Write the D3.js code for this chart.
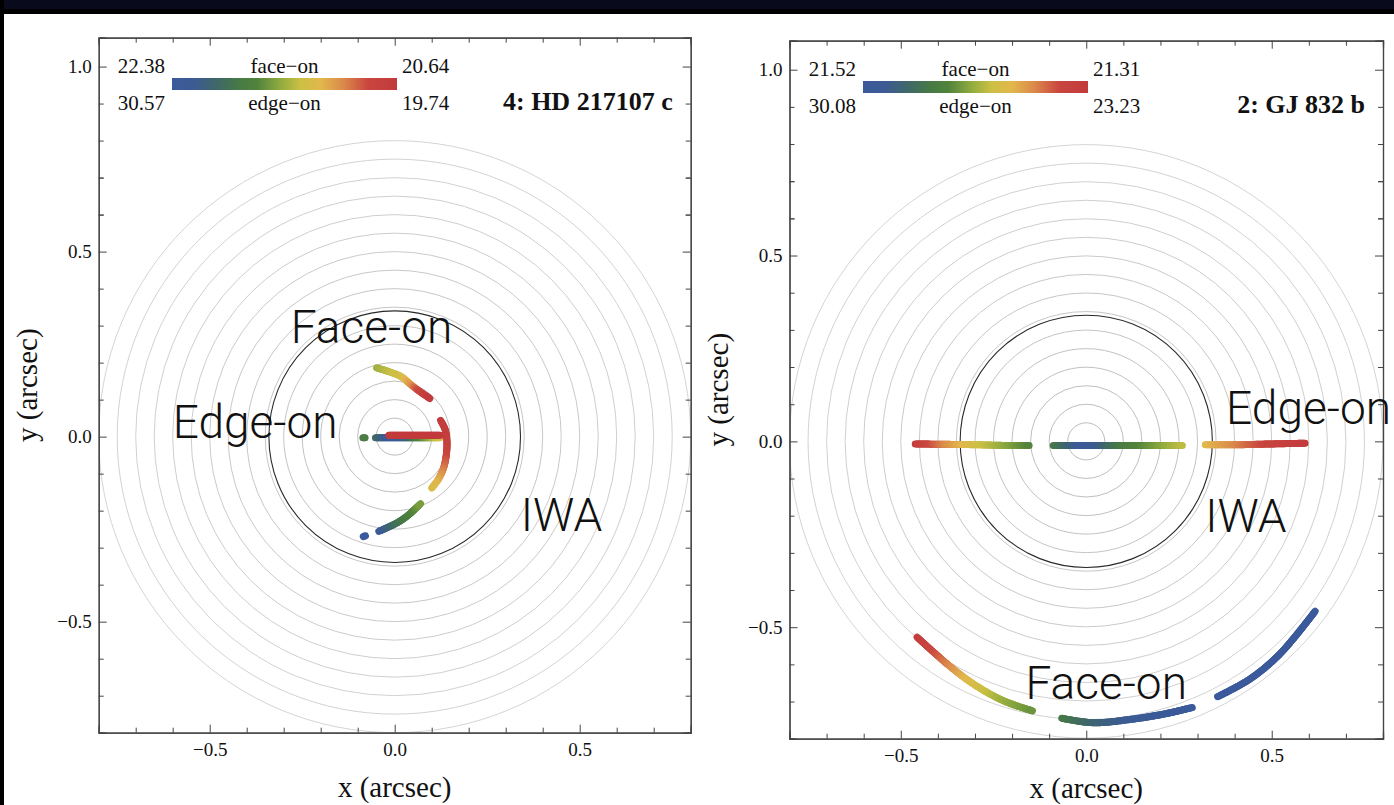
<!DOCTYPE html>
<html lang="en">
<head>
<meta charset="UTF-8">
<title>Projected orbits</title>
<script src="https://d3js.org/d3.v7.min.js"></script>
<style>
  body { margin: 0; background: #fff; }
  svg { display: block; }
  .tick text { font-family: "Liberation Serif", "Times New Roman", serif; font-size: 19px; fill: #111; }
  .axis path, .axis line { stroke: #444; }
  .note { font-family: Roboto, "Liberation Sans", sans-serif; font-weight: 300; font-size: 46px; fill: #111; }
  .serif { font-family: "Liberation Serif", "Times New Roman", serif; fill: #111; }
</style>
</head>
<body>
<svg id="chart" width="1394" height="805"></svg>
<script>
// ---- data ----
const xMajor = [-0.5, 0.0, 0.5];
const yMajor = [-0.5, 0.0, 0.5, 1.0];
const minorTicks = [-0.7, -0.6, -0.4, -0.3, -0.2, -0.1, 0.1, 0.2, 0.3, 0.4, 0.6, 0.7];
const yMinorExtra = [0.6, 0.7, 0.8, 0.9];
const ringRadii = [0.05, 0.10, 0.15, 0.20, 0.25, 0.30, 0.35, 0.40, 0.45, 0.50, 0.55, 0.60, 0.65, 0.70, 0.75, 0.80];
const iwaRadius = 0.34;

// colour map (DarkRainbow-like), position -> colour
const cmapStops = [0.00, 0.10, 0.20, 0.30, 0.38, 0.48, 0.57, 0.66, 0.76, 0.87, 1.00];
const cmapColors = ["#3b5a9b", "#3c5b93", "#3f6868", "#477a45", "#52833c", "#8fab3e", "#cbc044", "#e2b84c", "#db8a4b", "#c9473f", "#c23a3c"];

// panel 4: HD 217107 c   points are [x, y, colour position]
const hdLegend = ["22.38", "20.64", "30.57", "19.74"];
const hdFaceArc = [[-0.049, 0.186, 0.50], [0.016, 0.163, 0.60], [0.043, 0.141, 0.72], [0.061, 0.127, 0.85], [0.095, 0.103, 1.00]];
const hdRightArc = [[0.124, 0.044, 0.97], [0.136, 0.020, 0.96], [0.141, -0.010, 0.95], [0.140, -0.045, 0.90], [0.132, -0.085, 0.80], [0.118, -0.115, 0.70], [0.100, -0.139, 0.62]];
const hdLowerArc = [[-0.043, -0.256, 0.05], [0.008, -0.232, 0.25], [0.038, -0.211, 0.33], [0.070, -0.181, 0.45]];
const hdBlueDot = [[-0.085, -0.270, 0.00], [-0.079, -0.268, 0.00]];
const hdGreenDot = [[-0.086, -0.003, 0.32], [-0.080, -0.003, 0.32]];
const hdEdgeLine = [[-0.052, -0.003, 0.22], [-0.010, -0.003, 0.05], [0.030, -0.003, 0.15], [0.065, -0.003, 0.35], [0.122, -0.003, 0.60]];
const hdRedLine = [[-0.016, 0.004, 1.00], [0.124, 0.004, 1.00]];

// panel 2: GJ 832 b
const gjLegend = ["21.52", "21.31", "30.08", "23.23"];
const gjLeftEdge = [[-0.461, -0.007, 0.97], [-0.375, -0.008, 0.75], [-0.299, -0.009, 0.60], [-0.218, -0.011, 0.48], [-0.154, -0.011, 0.38]];
const gjCenterEdge = [[-0.089, -0.011, 0.30], [-0.030, -0.011, 0.12], [0.000, -0.011, 0.03], [0.092, -0.011, 0.30], [0.172, -0.011, 0.42], [0.259, -0.011, 0.55]];
const gjRightEdge = [[0.321, -0.009, 0.65], [0.415, -0.009, 0.78], [0.496, -0.007, 0.90], [0.590, -0.005, 0.98]];
const gjFaceLeft = [[-0.456, -0.527, 0.98], [-0.375, -0.599, 0.78], [-0.304, -0.653, 0.62], [-0.223, -0.698, 0.50], [-0.145, -0.725, 0.42]];
const gjFaceMid = [[-0.066, -0.745, 0.30], [0.019, -0.757, 0.18], [0.127, -0.747, 0.08], [0.213, -0.733, 0.03], [0.286, -0.716, 0.00]];
const gjFaceRight = [[0.354, -0.687, 0.00], [0.442, -0.639, 0.00], [0.523, -0.571, 0.00], [0.617, -0.457, 0.00]];

const noteTexts = ["Face-on", "Edge-on", "IWA"];

// ---- layout ----
const panels = [
  {
    title: "4: HD 217107 c", legend: hdLegend,
    tracks: [hdEdgeLine, hdGreenDot, hdRedLine, hdFaceArc, hdRightArc, hdLowerArc, hdBlueDot],
    box: { x0: 98.7, x1: 690.7, y0: 37.7, y1: 732.7 },
    notes: [[-0.281, 0.254], [-0.600, -0.005], [0.341, -0.254]],
    legendY: 73, barX: [172, 397], xTitleY: 797
  },
  {
    title: "2: GJ 832 b", legend: gjLegend,
    tracks: [gjLeftEdge, gjCenterEdge, gjRightEdge, gjFaceLeft, gjFaceMid, gjFaceRight],
    box: { x0: 789.5, x1: 1383, y0: 40.7, y1: 738.7 },
    notes: [[-0.164, -0.693], [0.377, 0.046], [0.321, -0.243]],
    legendY: 76, barX: [863, 1088], xTitleY: 798
  }
];

const svg = d3.select("#chart");
svg.append("rect").attr("x", 0).attr("y", 0).attr("width", 1394).attr("height", 14).attr("fill", "#000");
svg.append("rect").attr("x", 0).attr("y", 0).attr("width", 1394).attr("height", 9).attr("fill", "#0a0a1d");
svg.append("rect").attr("x", 0).attr("y", 0).attr("width", 4).attr("height", 805).attr("fill", "#000");

const cmap = d3.scaleLinear().domain(cmapStops).range(cmapColors).interpolate(d3.interpolateRgb).clamp(true);
const ringColor = d3.scaleLinear().domain([0.05, 0.8]).range(["#bcbcbc", "#d4d4d4"]);

const defs = svg.append("defs");
const grad = defs.append("linearGradient").attr("id", "cbar");
cmapStops.forEach((s, i) => grad.append("stop").attr("offset", s).attr("stop-color", cmapColors[i]));

panels.forEach((p, pi) => {
  const b = p.box;
  const x = d3.scaleLinear().domain([-0.8, 0.8]).range([b.x0, b.x1]);
  const y = d3.scaleLinear().domain([-0.8, 1.078]).range([b.y1, b.y0]);
  const g = svg.append("g");

  defs.append("clipPath").attr("id", "clip" + pi)
    .append("rect").attr("x", b.x0).attr("y", b.y0).attr("width", b.x1 - b.x0).attr("height", b.y1 - b.y0);
  const plot = g.append("g").attr("clip-path", `url(#clip${pi})`);

  // rings
  plot.selectAll("circle.ring").data(ringRadii).join("circle")
    .attr("class", "ring")
    .attr("cx", x(0)).attr("cy", y(0))
    .attr("r", d => x(d) - x(0))
    .attr("fill", "none").attr("stroke", d => ringColor(d)).attr("stroke-width", 1);
  plot.append("circle")
    .attr("cx", x(0)).attr("cy", y(0)).attr("r", x(iwaRadius) - x(0))
    .attr("fill", "none").attr("stroke", "#2a2a2a").attr("stroke-width", 1.1);

  // tracks with colour varying along their length
  const line = d3.line().x(d => x(d[0])).y(d => y(d[1])).curve(d3.curveCatmullRom);
  p.tracks.forEach(tr => {
    const tmp = plot.append("path").attr("d", line(tr)).attr("fill", "none").attr("stroke", "none");
    const L = tmp.node().getTotalLength();
    // cumulative chord length of the data points, used to map path length to colour position
    const cum = [0];
    for (let i = 1; i < tr.length; i++) {
      cum.push(cum[i - 1] + Math.hypot(x(tr[i][0]) - x(tr[i - 1][0]), y(tr[i][1]) - y(tr[i - 1][1])));
    }
    const tAt = d3.scaleLinear().domain(cum.map(c => c / cum[cum.length - 1])).range(tr.map(d => d[2]));
    const step = 1.5;
    const n = Math.max(1, Math.ceil(L / step));
    const tg = plot.append("g");
    for (let k = 0; k < n; k++) {
      const s0 = k * L / n, s1 = (k + 1) * L / n;
      const a = tmp.node().getPointAtLength(s0), c = tmp.node().getPointAtLength(s1);
      tg.append("line")
        .attr("x1", a.x).attr("y1", a.y).attr("x2", c.x).attr("y2", c.y)
        .attr("stroke", cmap(tAt((s0 + s1) / 2 / L)))
        .attr("stroke-width", 7).attr("stroke-linecap", "round");
    }
    tmp.remove();
  });

  // frame + ticks (inward, Mathematica style)
  const fmt = d3.format(".1f");
  const xMinor = minorTicks;
  const yMinor = minorTicks.concat(yMinorExtra);
  g.append("g").attr("class", "axis").attr("transform", `translate(0,${b.y1})`)
    .call(d3.axisBottom(x).tickValues(xMajor).tickSize(-8).tickPadding(10).tickFormat(fmt));
  g.append("g").attr("class", "axis").attr("transform", `translate(0,${b.y1})`)
    .call(d3.axisBottom(x).tickValues(xMinor).tickSize(-5).tickFormat(""));
  g.append("g").attr("class", "axis").attr("transform", `translate(0,${b.y0})`)
    .call(d3.axisTop(x).tickValues(xMajor).tickSize(-8).tickFormat(""));
  g.append("g").attr("class", "axis").attr("transform", `translate(0,${b.y0})`)
    .call(d3.axisTop(x).tickValues(xMinor).tickSize(-5).tickFormat(""));
  g.append("g").attr("class", "axis").attr("transform", `translate(${b.x0},0)`)
    .call(d3.axisLeft(y).tickValues(yMajor).tickSize(-8).tickPadding(7).tickFormat(fmt));
  g.append("g").attr("class", "axis").attr("transform", `translate(${b.x0},0)`)
    .call(d3.axisLeft(y).tickValues(yMinor).tickSize(-5).tickFormat(""));
  g.append("g").attr("class", "axis").attr("transform", `translate(${b.x1},0)`)
    .call(d3.axisRight(y).tickValues(yMajor).tickSize(-8).tickFormat(""));
  g.append("g").attr("class", "axis").attr("transform", `translate(${b.x1},0)`)
    .call(d3.axisRight(y).tickValues(yMinor).tickSize(-5).tickFormat(""));
  g.selectAll(".axis .domain").attr("stroke", "#444").attr("stroke-width", 1.2);

  // axis titles
  const cx = (b.x0 + b.x1) / 2, cy = (b.y0 + b.y1) / 2;
  g.append("text").attr("class", "serif").attr("x", cx).attr("y", p.xTitleY)
    .attr("text-anchor", "middle").attr("font-size", 29).text("x (arcsec)");
  g.append("text").attr("class", "serif")
    .attr("transform", `translate(${b.x0 - 62},${cy}) rotate(-90)`)
    .attr("text-anchor", "middle").attr("font-size", 29).text("y (arcsec)");

  // colour legend
  const ly = p.legendY;
  const bx = p.barX;
  g.append("rect").attr("x", bx[0]).attr("y", ly + 5).attr("width", bx[1] - bx[0]).attr("height", 12)
    .attr("fill", "url(#cbar)");
  const lt = [[bx[0] - 7, ly, "end", p.legend[0]], [bx[1] + 5, ly, "start", p.legend[1]],
              [bx[0] - 7, ly + 37, "end", p.legend[2]], [bx[1] + 5, ly + 37, "start", p.legend[3]],
              [(bx[0] + bx[1]) / 2, ly, "middle", "face\u2212on"], [(bx[0] + bx[1]) / 2, ly + 37, "middle", "edge\u2212on"]];
  lt.forEach(d => g.append("text").attr("class", "serif").attr("x", d[0]).attr("y", d[1])
    .attr("text-anchor", d[2]).attr("font-size", 21).text(d[3]));
  g.append("text").attr("class", "serif").attr("x", b.x1 - 18).attr("y", ly + 37)
    .attr("text-anchor", "end").attr("font-size", 26).attr("font-weight", "bold").text(p.title);

  // annotations
  p.notes.forEach((n, i) => {
    svg.append("text").attr("class", "note").attr("x", x(n[0])).attr("y", y(n[1])).text(noteTexts[i]);
  });
});
</script>
</body>
</html>
